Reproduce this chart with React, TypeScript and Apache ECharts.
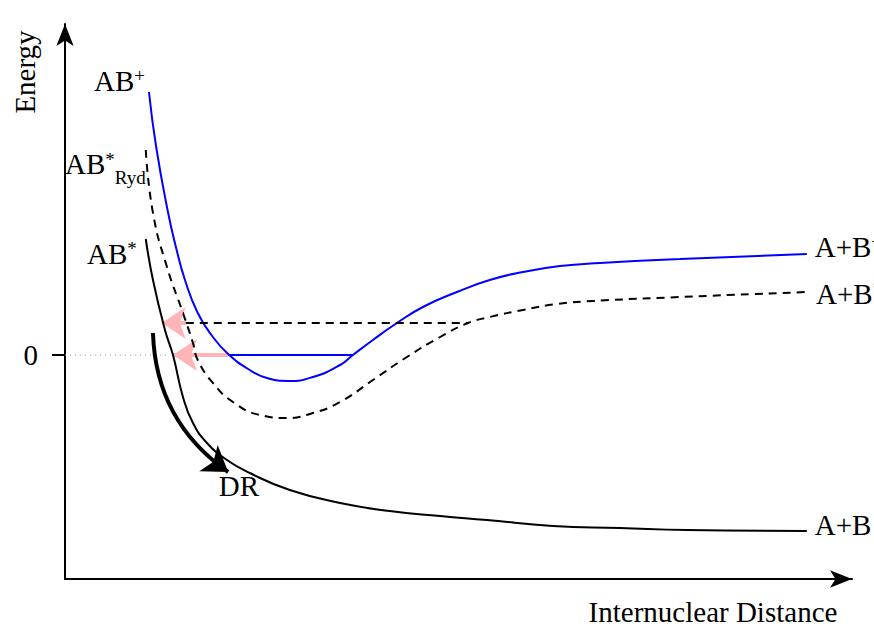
import React, { useEffect, useRef } from 'react';
import * as echarts from 'echarts';

// Potential energy curves: x = internuclear distance (arb. units), y = energy (arb. units)
const ionCurve: number[][] = [
  [10.5, 26.3], [11.4, 20.8], [12.9, 14.2], [13.9, 10.7], [15.0, 7.5], [16.6, 4.2],
  [18.4, 1.9], [20.4, 0.1], [23.1, -1.5], [25.25, -2.3], [28.0, -2.6], [31.0, -2.2],
  [34.4, -1.0], [36.0, 0.0], [38.5, 1.5], [41.5, 3.2], [44.75, 4.8], [49.0, 6.3],
  [53.1, 7.5], [57.25, 8.3], [61.9, 8.9], [66.9, 9.2], [76.9, 9.6], [92.75, 10.1],
];
const rydbergCurve: number[][] = [
  [10.1, 20.5], [11.0, 14.2], [12.75, 8.8], [14.75, 4.2], [16.0, 1.2], [16.6, -0.5],
  [18.5, -2.8], [21.0, -4.7], [24.4, -6.0], [27.75, -6.3], [31.0, -5.8], [34.4, -4.7],
  [38.5, -2.5], [42.75, -0.2], [46.9, 1.8], [50.4, 3.2], [53.1, 3.8], [57.25, 4.5],
  [61.5, 5.1], [66.0, 5.4], [76.9, 5.8], [92.9, 6.3],
];
const neutralCurve: number[][] = [
  [10.1, 11.6], [11.0, 7.5], [12.5, 2.5], [13.5, 0.0], [14.75, -4.2], [16.0, -6.8],
  [17.75, -8.8], [20.25, -10.5], [23.1, -11.8], [28.1, -13.5], [34.4, -14.8],
  [40.6, -15.6], [46.9, -16.1], [52.75, -16.5], [61.0, -17.1], [69.4, -17.3],
  [77.75, -17.5], [92.75, -17.6],
];
const ionLevel: number[][] = [[20.4, 0.0], [36.0, 0.0]];
const rydbergLevel: number[][] = [[15.1, 3.2], [50.4, 3.2]];
const zeroGuide: number[][] = [[0, 0], [13.1, 0]];
const captureArrows: number[][][] = [
  [[15.1, 3.2], [12.1, 3.2]],
  [[20.4, 0.0], [13.5, 0.0]],
];
const drArrow: number[][] = [[11.0, 2.2], [20.4, -11.7]];

const yTickValues = [0];
const X_MAX = 98.4;
const Y_MIN = -22.4;
const Y_MAX = 33.1;

const SERIF = '"Liberation Serif", "Times New Roman", serif';
const FS = 29;

const rich = {
  b: { fontSize: FS, fontFamily: SERIF, color: '#000', lineHeight: 30, verticalAlign: 'top' },
  sup: { fontSize: 19, fontFamily: SERIF, color: '#000', verticalAlign: 'top', lineHeight: 18 },
  sub: { fontSize: 19, fontFamily: SERIF, color: '#000', verticalAlign: 'bottom', lineHeight: 37 },
};

export default function App() {
  const ref = useRef<HTMLDivElement>(null);
  useEffect(() => {
    if (!ref.current) return;
    const chart = echarts.init(ref.current, undefined, { renderer: 'svg' });
    const startLabel = (text: string, distance: number, offset: number[]) => ({
      symbol: 'circle',
      symbolSize: 0,
      silent: true,
      label: {
        show: true,
        position: 'left',
        distance,
        offset,
        formatter: text,
        rich,
      },
    });
    const endLabel = (text: string, offset: number[]) => ({
      show: true,
      formatter: text,
      distance: 8,
      offset,
      rich,
    });
    chart.setOption({
      animation: false,
      backgroundColor: '#fff',
      grid: { left: 65, right: 22, top: 24, bottom: 51 },
      xAxis: {
        type: 'value',
        min: 0,
        max: X_MAX,
        axisLine: {
          onZero: false,
          symbol: ['none', 'arrow'],
          symbolSize: [13, 22],
          lineStyle: { color: '#000', width: 2 },
        },
        axisTick: { show: false },
        axisLabel: { show: false },
        splitLine: { show: false },
      },
      yAxis: {
        type: 'value',
        min: Y_MIN,
        max: Y_MAX,
        axisLine: {
          show: true,
          onZero: false,
          symbol: ['none', 'arrow'],
          symbolSize: [13, 22],
          lineStyle: { color: '#000', width: 2 },
        },
        axisTick: {
          show: true,
          customValues: yTickValues,
          length: 13,
          lineStyle: { color: '#000', width: 2 },
        },
        axisLabel: {
          show: true,
          customValues: yTickValues,
          formatter: (v: number) => String(v),
          fontSize: FS,
          fontFamily: SERIF,
          color: '#000',
          margin: 27,
        },
        splitLine: { show: false },
      },
      graphic: [
        {
          type: 'text',
          x: 25,
          y: 72,
          rotation: Math.PI / 2,
          style: {
            text: 'Energy',
            font: `${FS}px ${SERIF}`,
            fill: '#000',
            align: 'center',
            verticalAlign: 'middle',
          },
        },
        {
          type: 'text',
          x: 713,
          y: 612,
          style: {
            text: 'Internuclear Distance',
            font: `${FS}px ${SERIF}`,
            fill: '#000',
            align: 'center',
            verticalAlign: 'middle',
          },
        },
      ],
      series: [
        {
          type: 'line',
          data: zeroGuide,
          showSymbol: false,
          silent: true,
          lineStyle: { color: '#999', width: 1, type: [1, 4] },
        },
        {
          type: 'lines',
          coordinateSystem: 'cartesian2d',
          silent: true,
          symbol: ['none', 'arrow'],
          symbolSize: [14, 24],
          lineStyle: { color: '#ffb4b8', width: 4, opacity: 1 },
          data: captureArrows.map((c) => ({ coords: c })),
          z: 1,
        },
        {
          type: 'line',
          name: 'AB+',
          data: ionCurve,
          smooth: 0.5,
          showSymbol: false,
          lineStyle: { color: '#0000ff', width: 2 },
          endLabel: endLabel('{b|A+B}{sup|+}', [0, -7]),
          markPoint: { data: [{ coord: ionCurve[0], ...startLabel('{b|AB}{sup|+}', 4, [0, -11]) }] },
          z: 3,
        },
        {
          type: 'line',
          name: 'AB*Ryd',
          data: rydbergCurve,
          smooth: 0.5,
          showSymbol: false,
          lineStyle: { color: '#000', width: 2, type: [8, 6] },
          endLabel: endLabel('{b|A+B}{sup|*}', [0, 2]),
          markPoint: { data: [{ coord: rydbergCurve[0], ...startLabel('{b|AB}{sup|*}{sub|Ryd}', 0, [0, 18]) }] },
          z: 3,
        },
        {
          type: 'line',
          name: 'AB*',
          data: neutralCurve,
          smooth: 0.5,
          showSymbol: false,
          lineStyle: { color: '#000', width: 2 },
          endLabel: endLabel('{b|A+B}', [0, -6]),
          markPoint: { data: [{ coord: neutralCurve[0], ...startLabel('{b|AB}{sup|*}', 4, [-5, 15]) }] },
          z: 3,
        },
        {
          type: 'line',
          data: ionLevel,
          showSymbol: false,
          silent: true,
          lineStyle: { color: '#0000ff', width: 2 },
          z: 3,
        },
        {
          type: 'line',
          data: rydbergLevel,
          showSymbol: false,
          silent: true,
          lineStyle: { color: '#000', width: 2, type: [8, 6] },
          z: 3,
        },
        {
          type: 'lines',
          coordinateSystem: 'cartesian2d',
          silent: true,
          symbol: ['none', 'arrow'],
          symbolSize: [14, 24],
          lineStyle: { color: '#000', width: 4, opacity: 1, curveness: -0.25 },
          label: {
            show: true,
            position: 'end',
            distance: 6,
            offset: [8, -6],
            formatter: 'DR',
            fontSize: FS,
            fontFamily: SERIF,
            color: '#000',
          },
          data: [{ coords: drArrow }],
          z: 4,
        },
      ],
    });
    return () => chart.dispose();
  }, []);
  return (
    <div
      ref={ref}
      style={{ position: 'fixed', left: 0, top: 0, width: 874, height: 630, background: '#fff' }}
    />
  );
}
